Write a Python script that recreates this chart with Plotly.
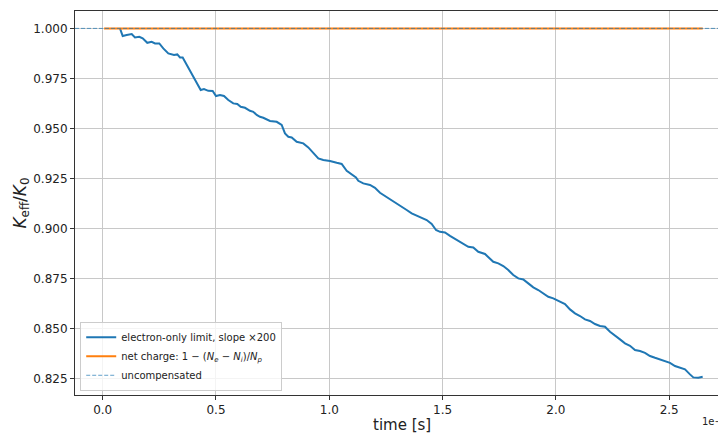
import plotly.graph_objects as go

# electron-only limit (slope x200)
t_electron = [0.0763, 0.0883, 0.1059, 0.1280, 0.1425, 0.1615, 0.1765, 0.1968, 0.2162, 0.2308,
              0.2498, 0.2674, 0.2895, 0.3147, 0.3292, 0.3411, 0.3530, 0.3707, 0.3928, 0.4148,
              0.4325, 0.4470, 0.4660, 0.4854, 0.5000, 0.5177, 0.5353, 0.5543, 0.5763, 0.5940,
              0.6090, 0.6280, 0.6500, 0.6646, 0.6796, 0.6942, 0.7087, 0.7383, 0.7679, 0.7899,
              0.8045, 0.8191, 0.8341, 0.8561, 0.8853, 0.9073, 0.9294, 0.9515, 0.9735, 1.0031,
              1.0327, 1.0547, 1.0768, 1.0989, 1.1178, 1.1280, 1.1500, 1.1796, 1.2017, 1.2237,
              1.2458, 1.2679, 1.2899, 1.3120, 1.3416, 1.3636, 1.3857, 1.4078, 1.4298, 1.4519,
              1.4709, 1.4885, 1.5106, 1.5327, 1.5622, 1.5914, 1.6134, 1.6355, 1.6575, 1.6871,
              1.7092, 1.7237, 1.7458, 1.7679, 1.7899, 1.8120, 1.8341, 1.8561, 1.8782, 1.9003,
              1.9223, 1.9444, 1.9665, 1.9885, 2.0181, 2.0402, 2.0622, 2.0843, 2.1064, 2.1284,
              2.1505, 2.1726, 2.1946, 2.2167, 2.2388, 2.2608, 2.2829, 2.3050, 2.3270, 2.3491,
              2.3712, 2.3932, 2.4153, 2.4374, 2.4594, 2.4815, 2.5035, 2.5256, 2.5477, 2.5697,
              2.5918, 2.6064, 2.6284, 2.6478]
k_electron = [1.0000, 0.9962, 0.9967, 0.9972, 0.9955, 0.9958, 0.9950, 0.9928, 0.9933, 0.9925,
              0.9925, 0.9900, 0.9875, 0.9867, 0.9870, 0.9855, 0.9855, 0.9817, 0.9775, 0.9725,
              0.9692, 0.9697, 0.9688, 0.9687, 0.9662, 0.9667, 0.9662, 0.9642, 0.9625, 0.9622,
              0.9608, 0.9603, 0.9588, 0.9583, 0.9567, 0.9558, 0.9553, 0.9537, 0.9533, 0.9517,
              0.9475, 0.9458, 0.9455, 0.9433, 0.9425, 0.9405, 0.9375, 0.9350, 0.9342, 0.9337,
              0.9328, 0.9322, 0.9288, 0.9272, 0.9255, 0.9238, 0.9225, 0.9217, 0.9203, 0.9178,
              0.9162, 0.9145, 0.9133, 0.9114, 0.9092, 0.9075, 0.9063, 0.9050, 0.9042, 0.9022,
              0.8992, 0.8983, 0.8980, 0.8963, 0.8942, 0.8920, 0.8908, 0.8905, 0.8883, 0.8872,
              0.8850, 0.8833, 0.8825, 0.8812, 0.8792, 0.8767, 0.8750, 0.8745, 0.8725, 0.8705,
              0.8692, 0.8675, 0.8658, 0.8650, 0.8633, 0.8622, 0.8595, 0.8575, 0.8562, 0.8545,
              0.8537, 0.8522, 0.8512, 0.8508, 0.8483, 0.8462, 0.8445, 0.8425, 0.8413, 0.8392,
              0.8387, 0.8378, 0.8362, 0.8353, 0.8345, 0.8338, 0.8328, 0.8312, 0.8305, 0.8295,
              0.8270, 0.8255, 0.8253, 0.8258]

# net charge
t_net = [0.006, 2.648]
k_net = [1.0, 1.0]

# uncompensated reference level
k_uncomp = 1.0

x_ticks = [0.0, 0.5, 1.0, 1.5, 2.0, 2.5]
y_ticks = [0.825, 0.850, 0.875, 0.900, 0.925, 0.950, 0.975, 1.000]

X_RANGE = [-0.1222, 2.7507]
FONT = "DejaVu Sans"

fig = go.Figure()
fig.add_trace(go.Scatter(x=t_electron, y=k_electron, mode="lines",
                         line=dict(color="#1f77b4", width=2),
                         name="electron-only limit, slope ×200"))
fig.add_trace(go.Scatter(x=t_net, y=k_net, mode="lines",
                         line=dict(color="#ff7f0e", width=2),
                         name="net charge: 1 − (<i>N<sub>e</sub></i> − <i>N<sub>i</sub></i>)/<i>N<sub>p</sub></i>"))
fig.add_trace(go.Scatter(x=X_RANGE, y=[k_uncomp, k_uncomp], mode="lines",
                         line=dict(color="rgba(31,119,180,0.7)", width=1, dash="4px,2px"),
                         name="uncompensated"))

# page has an 8px body margin, so the figure is 718x427 placed at (8, 8)
fig.update_layout(
    width=718, height=427,
    margin=dict(l=67, r=0, t=3, b=40, autoexpand=False),
    plot_bgcolor="white", paper_bgcolor="white",
    font=dict(family=FONT, color="#222", size=12),
    showlegend=True,
    legend=dict(x=0.008, y=0.011, xanchor="left", yanchor="bottom",
                bgcolor="rgba(255,255,255,0.8)", bordercolor="#cccccc", borderwidth=1,
                font=dict(size=10, family=FONT, color="#222"),
                tracegroupgap=0),
    annotations=[
        dict(text="1e−8", xref="paper", yref="paper", x=1.0077, y=-0.07,
             xanchor="right", yanchor="middle", showarrow=False,
             font=dict(size=10, family=FONT, color="#222")),
        dict(text="time [s]", xref="paper", yref="paper", x=0.502, y=-0.078,
             xanchor="center", yanchor="middle", showarrow=False,
             font=dict(size=15, family=FONT, color="#222")),
    ],
)
fig.update_xaxes(range=X_RANGE, tickvals=x_ticks, tickformat=".1f", automargin=False,
                 showgrid=True, gridcolor="#c8c8c8", gridwidth=1,
                 showline=True, linecolor="#333", linewidth=1, mirror=True,
                 ticks="outside", ticklen=4, tickcolor="#333", zeroline=False)
fig.update_yaxes(range=[0.8167, 1.0087], tickvals=y_ticks, tickformat=".3f", automargin=False,
                 showgrid=True, gridcolor="#c8c8c8", gridwidth=1,
                 showline=True, linecolor="#333", linewidth=1,
                 ticks="outside", ticklen=4, tickcolor="#333", zeroline=False,
                 title=dict(text="<i>K</i><sub>eff</sub>/<i>K</i><sub>0</sub>",
                            font=dict(size=17, family=FONT, color="#222"), standoff=2))

fig.write_html("out.html")
